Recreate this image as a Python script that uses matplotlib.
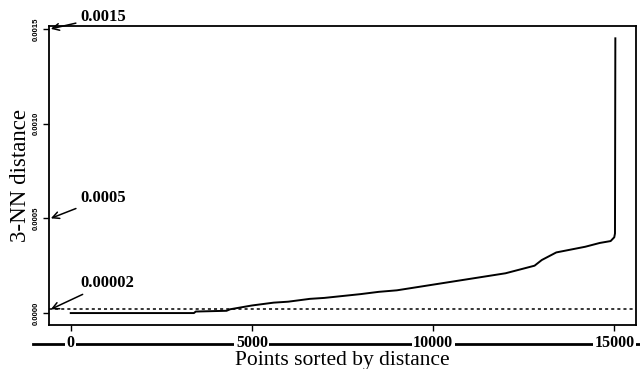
import matplotlib.pyplot as plt
from matplotlib.lines import Line2D

# sorted 3-NN distances
pts = [0, 500, 1500, 2500, 3400, 3450, 4300, 4400, 5000, 5600, 6000, 6600,
       7000, 7500, 8000, 8500, 9000, 9500, 10000, 10500, 11000, 11500, 12000,
       12500, 12800, 13000, 13200, 13400, 13800, 14200, 14600, 14900, 15000,
       15020, 15030]
dist = [0.0, 0.0, 0.0, 0.0, 0.0, 0.000008, 0.000012, 0.00002, 0.00004,
        0.000055, 0.00006, 0.000075, 0.00008, 0.00009, 0.0001, 0.000112,
        0.00012, 0.000135, 0.00015, 0.000165, 0.00018, 0.000195, 0.00021,
        0.000235, 0.00025, 0.00028, 0.0003, 0.00032, 0.000335, 0.00035,
        0.00037, 0.00038, 0.0004, 0.00042, 0.00145]

xticks = [0, 5000, 10000, 15000]
yticks = [0.0, 0.0005, 0.0010, 0.0015]
ytick_labels = ['0.0000', '0.0005', '0.0010', '0.0015']
eps = 0.00002
notes = ['0.0015', '0.0005', '0.00002']
note_y = [0.0015, 0.0005, 0.00002]

fig = plt.figure(figsize=(6.4, 3.69), dpi=100)
ax = fig.add_axes([49/640, 44/369, 587/640, 299/369])

ax.plot(pts, dist, color='black', lw=1.4)
ax.axhline(eps, color='black', lw=1.1, ls=(0, (2, 2)))

ax.set_xlim(-600, 15600)
ax.set_ylim(-0.000063, 0.001515)

ax.set_xticks(xticks)
ax.set_xticklabels([str(t) for t in xticks], fontfamily='Liberation Serif',
                   fontweight='bold', fontsize=11.5)
ax.tick_params(axis='x', length=4, width=1, pad=3)
for lab in ax.get_xticklabels():
    lab.set_bbox(dict(facecolor='white', edgecolor='none', pad=1))

ax.set_yticks(yticks)
ax.set_yticklabels(ytick_labels, rotation=90, va='center', fontsize=5.5,
                   fontweight='bold', fontfamily='Liberation Sans')
ax.tick_params(axis='y', length=4, width=1, pad=3)

for s in ax.spines.values():
    s.set_linewidth(1.3)

# thick rule behind the x tick labels
rule = Line2D([-16/587, 1.01], [-0.063, -0.063], transform=ax.transAxes,
              color='black', lw=2, clip_on=False, zorder=1)
ax.add_line(rule)

ax.set_xlabel('Points sorted by distance', fontfamily='Liberation Serif',
              fontsize=15.5)
ax.xaxis.set_label_coords(0.5, -0.087)
ax.set_ylabel('3-NN distance', fontfamily='Liberation Serif', fontsize=16.5,
              labelpad=1)

for txt, yv, ty in zip(notes, note_y, [17, 198, 283]):
    ax.annotate(txt, xy=(-550, yv), xycoords='data',
                xytext=(80, 369 - ty), textcoords='figure pixels',
                fontfamily='Liberation Serif', fontweight='bold', fontsize=12,
                va='center', ha='left', annotation_clip=False,
                arrowprops=dict(arrowstyle='->', color='black', lw=1.1,
                                shrinkA=1, shrinkB=0, mutation_scale=12))

fig.savefig('out.png', dpi=100)
